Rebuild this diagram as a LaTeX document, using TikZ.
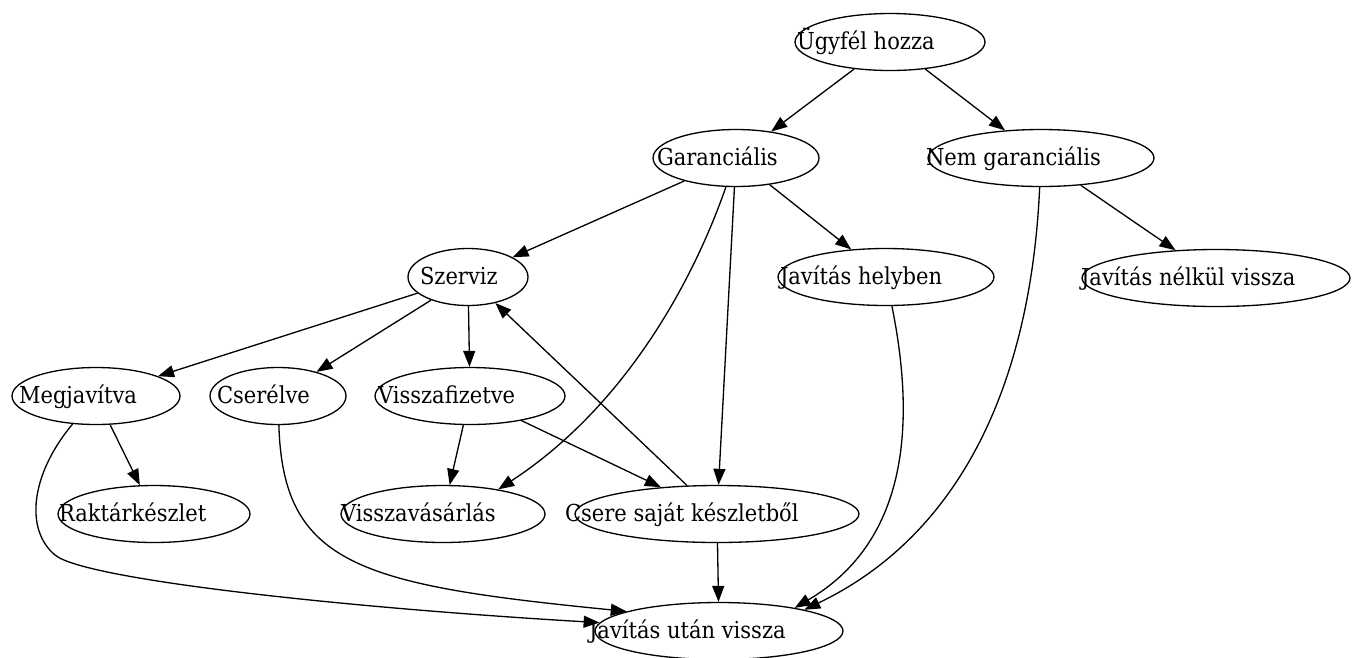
\documentclass[tikz,border=0pt]{standalone}
\usepackage{fontspec}
\setmainfont{DejaVu Serif}[FakeStretch=0.9]
\usetikzlibrary{arrows.meta,shapes.geometric}

\begin{document}
\begin{tikzpicture}[x=0.02cm, y=-0.02cm, >={Triangle[length=0.32cm,width=0.24cm]}, line width=0.75pt,
  state/.style={draw, ellipse, minimum height=1.14cm, inner sep=0pt},
  txt/.style={anchor=base west, inner sep=0pt, yshift=-0.15cm, font=\fontsize{13.3}{15}\selectfont}]
\useasboundingbox (0,0) rectangle (1352,657);
\node[state, minimum width=3.8cm, label={[txt, xshift=0.04cm]west:Ügyfél hozza}] (ugyfel) at (890,42) {};
\node[state, minimum width=3.32cm, label={[txt, xshift=0.08cm]west:Garanciális}] (garancialis) at (736,158) {};
\node[state, minimum width=4.52cm, label={[txt, xshift=-0.04cm]west:Nem garanciális}] (nemgar) at (1041,158) {};
\node[state, minimum width=2.4cm, label={[txt, xshift=0.24cm]west:Szerviz}] (szerviz) at (468,277) {};
\node[state, minimum width=4.32cm, label={[txt, xshift=0.04cm]west:Javítás helyben}] (javhelyben) at (886,277) {};
\node[state, minimum width=5.36cm, label={[txt, xshift=-0.02cm]west:Javítás nélkül vissza}] (javnelkul) at (1216,278) {};
\node[state, minimum width=3.36cm, label={[txt, xshift=0.14cm]west:Megjavítva}] (megjavitva) at (96,396) {};
\node[state, minimum width=2.72cm, label={[txt, xshift=0.14cm]west:Cserélve}] (cserelve) at (278,396) {};
\node[state, minimum width=3.8cm, label={[txt, xshift=0.06cm]west:Visszafizetve}] (visszafizetve) at (470,396) {};
\node[state, minimum width=3.84cm, label={[txt, xshift=0.02cm]west:Raktárkészlet}] (raktar) at (154,514) {};
\node[state, minimum width=4.08cm, label={[txt]west:Visszavásárlás}] (visszavasarlas) at (443,514) {};
\node[state, minimum width=5.68cm, label={[txt, xshift=-0.2cm]west:Csere saját készletből}] (csere) at (717,514) {};
\node[state, minimum width=4.96cm, label={[txt, xshift=-0.12cm]west:Javítás után vissza}] (javutan) at (719,631) {};

\draw[->] (ugyfel) -- (garancialis);
\draw[->] (ugyfel) -- (nemgar);
\draw[->] (garancialis) -- (szerviz);
\draw[->] (garancialis) -- (javhelyben);
\draw[->] (garancialis) -- (csere);
\draw[->] (garancialis) .. controls (690,290) and (620,410) .. (visszavasarlas.24);
\draw[->] (nemgar) -- (javnelkul);
\draw[->] (nemgar) .. controls (1030,400) and (950,540) .. (javutan.14);
\draw[->] (szerviz) -- (megjavitva);
\draw[->] (szerviz) -- (cserelve);
\draw[->] (szerviz) -- (visszafizetve);
\draw[->] (javhelyben) .. controls (915,420) and (910,540) .. (javutan.17);
\draw[->] (megjavitva) -- (raktar);
\draw[->] (megjavitva) .. controls (30,475) and (25,530) .. (55,555) .. controls (85,580) and (350,608) .. (javutan.176);
\draw[->] (cserelve) .. controls (283,565) and (360,585) .. (javutan.168);
\draw[->] (visszafizetve) -- (visszavasarlas);
\draw[->] (visszafizetve) -- (csere);
\draw[->] (csere) -- (szerviz);
\draw[->] (csere) -- (javutan);
\end{tikzpicture}
\end{document}
